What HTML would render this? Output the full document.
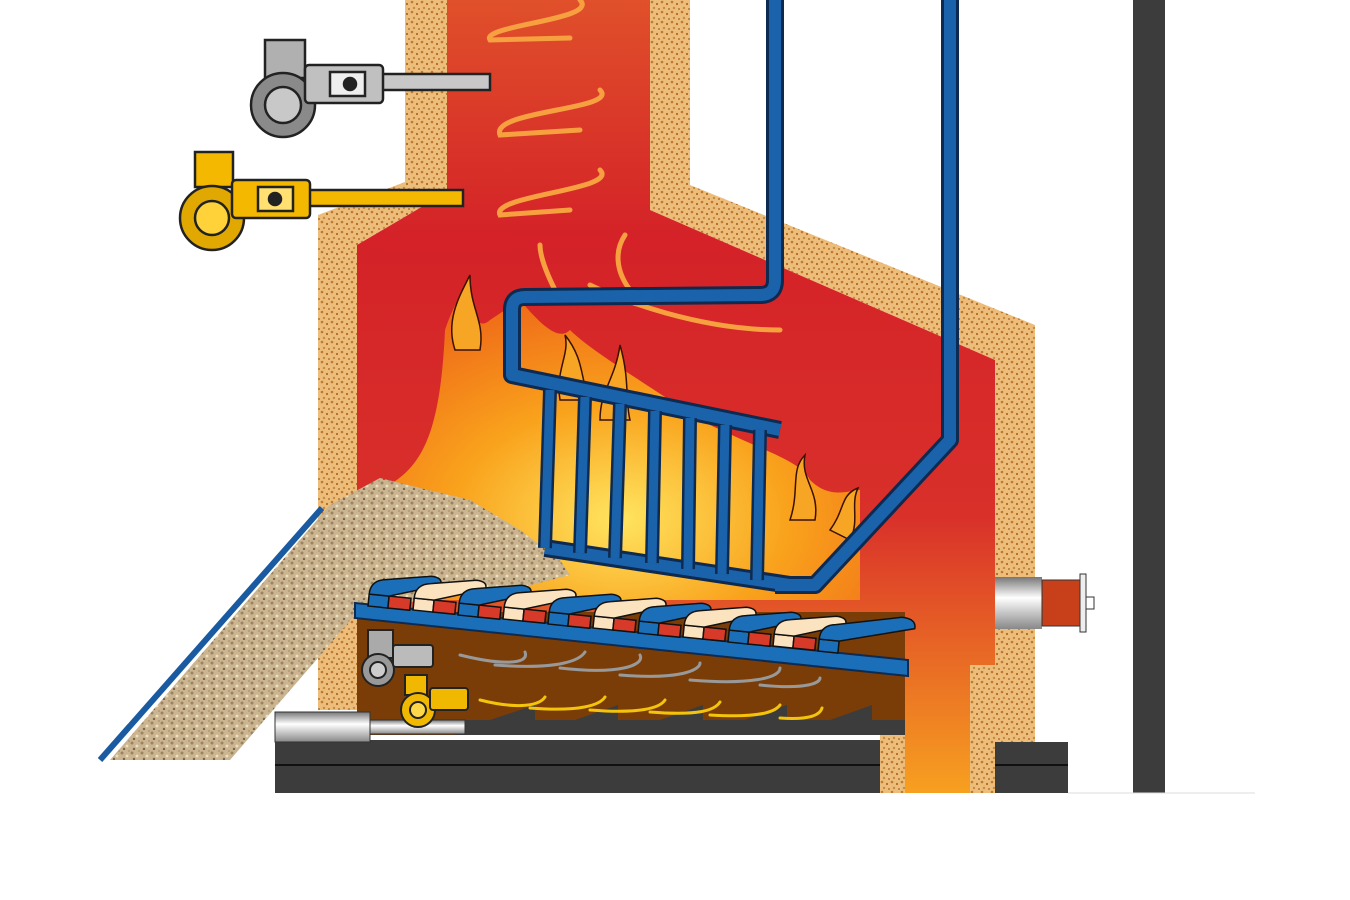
<!DOCTYPE html>
<html><head><meta charset="utf-8"><style>html,body{margin:0;padding:0;background:#fff}svg{display:block}</style></head>
<body>
<svg width="1350" height="900" viewBox="0 0 1350 900" xmlns="http://www.w3.org/2000/svg">
<defs>
<pattern id="sp" width="10" height="10" patternUnits="userSpaceOnUse">
<rect width="10" height="10" fill="#edbd7c"/>
<circle cx="2" cy="2" r="1.3" fill="#c07a30"/><circle cx="7" cy="4" r="1.1" fill="#b06a20"/>
<circle cx="4" cy="8" r="1.2" fill="#c88a3a"/><circle cx="9" cy="9" r="0.9" fill="#a06020"/>
</pattern>
<pattern id="fuel" width="10" height="10" patternUnits="userSpaceOnUse">
<rect width="10" height="10" fill="#cbb590"/>
<circle cx="2" cy="3" r="1.5" fill="#9a8262"/><circle cx="7" cy="6" r="1.4" fill="#ede0c0"/>
<circle cx="4" cy="9" r="1.2" fill="#7a6448"/><circle cx="9" cy="1" r="1" fill="#b09a76"/>
</pattern>
<linearGradient id="red" x1="0" y1="0" x2="0" y2="1">
<stop offset="0" stop-color="#e0502a"/><stop offset="0.3" stop-color="#d42228"/>
<stop offset="0.65" stop-color="#d9302a"/><stop offset="1" stop-color="#f7a020"/>
</linearGradient>
<radialGradient id="fire" cx="0.5" cy="0.75" r="0.7">
<stop offset="0" stop-color="#ffe560"/><stop offset="0.5" stop-color="#f9a21c"/><stop offset="1" stop-color="#ef6a18"/>
</radialGradient>
<linearGradient id="metal" x1="0" y1="0" x2="0" y2="1">
<stop offset="0" stop-color="#777"/><stop offset="0.4" stop-color="#fff"/><stop offset="1" stop-color="#888"/>
</linearGradient>
</defs>

<polygon points="405,0 447,0 447,192 357,245 357,710 318,710 318,215 405,182" fill="url(#sp)"/>
<polygon points="650,0 690,0 690,185 1035,325 1035,742 995,742 995,360 650,210" fill="url(#sp)"/>
<rect x="970" y="665" width="25" height="128" fill="url(#sp)"/>
<rect x="880" y="675" width="25" height="118" fill="url(#sp)"/>

<polygon points="447,0 650,0 650,210 995,360 995,665 970,665 970,793 905,793 905,615 357,615 357,245 447,192" fill="url(#red)"/>

<g fill="none" stroke="#f6a040" stroke-width="5" stroke-linecap="round">
<path d="M580,0 C600,20 480,25 490,40 L570,38"/>
<path d="M600,90 C620,110 490,110 500,135 L580,130"/>
<path d="M600,170 C620,190 490,195 500,215 L570,210"/>
<path d="M555,290 C545,270 540,255 540,245"/>
<path d="M630,290 C615,270 615,250 625,235"/>
<path d="M780,330 C700,330 620,300 590,285"/>
</g>

<path d="M380,490 C420,470 440,440 445,330 C455,300 470,280 470,275 C465,320 480,330 490,320 L520,300 C545,330 560,340 570,330 C590,350 640,380 700,420 C760,450 800,460 810,480 C830,500 850,490 860,490 L860,600 L380,600 Z" fill="url(#fire)"/>
<g fill="#f7a525" stroke="#3a1000" stroke-width="1.5">
<path d="M790,520 C800,490 790,470 805,455 C800,480 820,490 815,520 Z"/>
<path d="M830,530 C845,510 840,495 858,488 C850,505 860,520 850,540 Z"/>
<path d="M560,400 C555,370 570,355 565,335 C585,360 580,380 590,400 Z"/>
<path d="M600,420 C600,390 615,380 620,345 C630,380 625,400 630,420 Z"/>
<path d="M455,350 C445,320 460,295 470,275 C470,310 485,320 480,350 Z"/>
</g>

<polygon points="110,760 230,760 355,615 430,598 520,588 570,575 560,560 520,530 470,500 420,488 380,478 330,505" fill="url(#fuel)"/>
<line x1="100" y1="760" x2="322" y2="508" stroke="#1a5aa0" stroke-width="6"/>

<g fill="none" stroke="#0e2a50" stroke-width="18" stroke-linejoin="round">
<path d="M775,0 L775,280 Q775,295 760,295 L525,297 Q512,297 512,310 L512,375 L780,430"/>
<path d="M950,0 L950,440 L815,585 L775,585"/>
<path d="M545,548 L790,585"/>
</g>
<g fill="none" stroke="#1a63aa" stroke-width="12" stroke-linejoin="round">
<path d="M775,0 L775,280 Q775,295 760,295 L525,297 Q512,297 512,310 L512,375 L780,430"/>
<path d="M950,0 L950,440 L815,585 L775,585"/>
<path d="M545,548 L790,585"/>
</g>
<g stroke="#0e2a50" stroke-width="14"><line x1="550" y1="390" x2="545" y2="548"/><line x1="585" y1="397" x2="580" y2="553"/><line x1="620" y1="404" x2="615" y2="558"/><line x1="655" y1="411" x2="652" y2="563"/><line x1="690" y1="418" x2="688" y2="569"/><line x1="725" y1="425" x2="722" y2="574"/><line x1="760" y1="430" x2="757" y2="580"/></g>
<g stroke="#1a63aa" stroke-width="9"><line x1="550" y1="390" x2="545" y2="548"/><line x1="585" y1="397" x2="580" y2="553"/><line x1="620" y1="404" x2="615" y2="558"/><line x1="655" y1="411" x2="652" y2="563"/><line x1="690" y1="418" x2="688" y2="569"/><line x1="725" y1="425" x2="722" y2="574"/><line x1="760" y1="430" x2="757" y2="580"/></g>

<rect x="357" y="612" width="548" height="123" fill="#7a3d08"/>
<g fill="#3c3c3c"><polygon points="490,720 535,705 535,722"/><polygon points="575,720 618,705 618,722"/><polygon points="660,720 703,705 703,722"/><polygon points="745,720 787,705 787,722"/><polygon points="830,720 872,705 872,722"/></g>
<rect x="455" y="720" width="450" height="15" fill="#3c3c3c"/>
<g fill="none" stroke-width="3" stroke-linecap="round">
<path d="M460,655 C500,665 530,665 525,652" stroke="#999"/><path d="M495,665 C560,670 580,660 585,652" stroke="#999"/>
<path d="M560,668 C620,675 645,665 640,655" stroke="#999"/><path d="M620,675 C680,680 700,670 700,663" stroke="#999"/>
<path d="M690,680 C750,685 780,678 780,668" stroke="#999"/><path d="M760,685 C810,690 820,682 820,678" stroke="#999"/>
<path d="M480,700 C520,710 540,705 545,697" stroke="#f4c40c"/><path d="M530,708 C580,712 600,705 605,697" stroke="#f4c40c"/>
<path d="M590,710 C640,714 660,708 665,700" stroke="#f4c40c"/><path d="M650,712 C700,716 715,710 720,702" stroke="#f4c40c"/>
<path d="M710,715 C760,718 775,712 780,705" stroke="#f4c40c"/><path d="M780,718 C810,720 820,715 822,708" stroke="#f4c40c"/>
</g>
<polygon points="355,603 908,660 908,676 355,618" fill="#1a6fb8" stroke="#0e2a50" stroke-width="2"/>
<g stroke="#111" stroke-width="1.5">
<g transform="translate(368,606) rotate(5.8)"><rect x="0" y="-12" width="20" height="12" fill="#1a6fb8"/><rect x="20" y="-12" width="22" height="12" fill="#d83a2a"/><path d="M0,-12 Q0,-26 15,-28 L60,-36 Q72,-36 70,-28 L20,-12 Z" fill="#1a6fb8"/></g>
<g transform="translate(413,610) rotate(5.8)"><rect x="0" y="-12" width="20" height="12" fill="#fbe3bf"/><rect x="20" y="-12" width="22" height="12" fill="#d83a2a"/><path d="M0,-12 Q0,-26 15,-28 L60,-36 Q72,-36 70,-28 L20,-12 Z" fill="#fbe3bf"/></g>
<g transform="translate(458,615) rotate(5.8)"><rect x="0" y="-12" width="20" height="12" fill="#1a6fb8"/><rect x="20" y="-12" width="22" height="12" fill="#d83a2a"/><path d="M0,-12 Q0,-26 15,-28 L60,-36 Q72,-36 70,-28 L20,-12 Z" fill="#1a6fb8"/></g>
<g transform="translate(503,619) rotate(5.8)"><rect x="0" y="-12" width="20" height="12" fill="#fbe3bf"/><rect x="20" y="-12" width="22" height="12" fill="#d83a2a"/><path d="M0,-12 Q0,-26 15,-28 L60,-36 Q72,-36 70,-28 L20,-12 Z" fill="#fbe3bf"/></g>
<g transform="translate(548,624) rotate(5.8)"><rect x="0" y="-12" width="20" height="12" fill="#1a6fb8"/><rect x="20" y="-12" width="22" height="12" fill="#d83a2a"/><path d="M0,-12 Q0,-26 15,-28 L60,-36 Q72,-36 70,-28 L20,-12 Z" fill="#1a6fb8"/></g>
<g transform="translate(593,628) rotate(5.8)"><rect x="0" y="-12" width="20" height="12" fill="#fbe3bf"/><rect x="20" y="-12" width="22" height="12" fill="#d83a2a"/><path d="M0,-12 Q0,-26 15,-28 L60,-36 Q72,-36 70,-28 L20,-12 Z" fill="#fbe3bf"/></g>
<g transform="translate(638,633) rotate(5.8)"><rect x="0" y="-12" width="20" height="12" fill="#1a6fb8"/><rect x="20" y="-12" width="22" height="12" fill="#d83a2a"/><path d="M0,-12 Q0,-26 15,-28 L60,-36 Q72,-36 70,-28 L20,-12 Z" fill="#1a6fb8"/></g>
<g transform="translate(683,637) rotate(5.8)"><rect x="0" y="-12" width="20" height="12" fill="#fbe3bf"/><rect x="20" y="-12" width="22" height="12" fill="#d83a2a"/><path d="M0,-12 Q0,-26 15,-28 L60,-36 Q72,-36 70,-28 L20,-12 Z" fill="#fbe3bf"/></g>
<g transform="translate(728,642) rotate(5.8)"><rect x="0" y="-12" width="20" height="12" fill="#1a6fb8"/><rect x="20" y="-12" width="22" height="12" fill="#d83a2a"/><path d="M0,-12 Q0,-26 15,-28 L60,-36 Q72,-36 70,-28 L20,-12 Z" fill="#1a6fb8"/></g>
<g transform="translate(773,646) rotate(5.8)"><rect x="0" y="-12" width="20" height="12" fill="#fbe3bf"/><rect x="20" y="-12" width="22" height="12" fill="#d83a2a"/><path d="M0,-12 Q0,-26 15,-28 L60,-36 Q72,-36 70,-28 L20,-12 Z" fill="#fbe3bf"/></g>
<g transform="translate(818,651) rotate(5.8)"><rect x="0" y="-12" width="20" height="12" fill="#1a6fb8"/><path d="M0,-12 Q0,-26 15,-28 L80,-42 Q95,-42 94,-32 L20,-12 Z" fill="#1a6fb8"/></g>
</g>

<rect x="275" y="740" width="605" height="53" fill="#3c3c3c"/>
<line x1="275" y1="765" x2="880" y2="765" stroke="#111" stroke-width="2"/>
<rect x="995" y="742" width="73" height="51" fill="#3c3c3c"/>
<line x1="995" y1="765" x2="1068" y2="765" stroke="#111" stroke-width="2"/>
<rect x="1133" y="0" width="32" height="793" fill="#3c3c3c"/>
<line x1="1068" y1="793" x2="1255" y2="793" stroke="#ddd" stroke-width="1"/>

<rect x="275" y="712" width="95" height="30" fill="url(#metal)" stroke="#333"/>
<rect x="370" y="720" width="95" height="14" fill="url(#metal)" stroke="#333"/>

<g stroke="#222" stroke-width="2">
<rect x="368" y="630" width="25" height="28" fill="#aaa"/><circle cx="378" cy="670" r="16" fill="#999"/><circle cx="378" cy="670" r="8" fill="#ccc"/>
<rect x="393" y="645" width="40" height="22" rx="3" fill="#bbb"/>
<rect x="405" y="675" width="22" height="20" fill="#f0b800"/><circle cx="418" cy="710" r="17" fill="#f0b800"/><circle cx="418" cy="710" r="8" fill="#ffd84a"/>
<rect x="430" y="688" width="38" height="22" rx="3" fill="#f0b800"/>
</g>

<g stroke="#222" stroke-width="2.5">
<rect x="382" y="74" width="108" height="16" fill="#c8c8c8"/>
<rect x="265" y="40" width="40" height="38" fill="#b0b0b0"/>
<circle cx="283" cy="105" r="32" fill="#8a8a8a"/><circle cx="283" cy="105" r="18" fill="#c8c8c8"/>
<rect x="305" y="65" width="78" height="38" rx="4" fill="#c0c0c0"/>
<rect x="330" y="72" width="35" height="24" fill="#eee"/><circle cx="350" cy="84" r="6" fill="#222"/>
</g>
<g stroke="#222" stroke-width="2.5">
<rect x="305" y="190" width="158" height="16" fill="#f4b800"/>
<rect x="195" y="152" width="38" height="35" fill="#f4b800"/>
<circle cx="212" cy="218" r="32" fill="#e0a800"/><circle cx="212" cy="218" r="17" fill="#ffd23a"/>
<rect x="232" y="180" width="78" height="38" rx="4" fill="#f4b800"/>
<rect x="258" y="187" width="35" height="24" fill="#ffe070"/><circle cx="275" cy="199" r="6" fill="#222"/>
</g>

<rect x="995" y="577" width="47" height="52" fill="url(#metal)"/>
<rect x="1042" y="580" width="40" height="46" fill="#c8401a" stroke="#333"/>
<rect x="1080" y="574" width="6" height="58" fill="#eee" stroke="#333"/>
<rect x="1086" y="597" width="8" height="12" fill="#fff" stroke="#333"/>
</svg>
</body></html>
